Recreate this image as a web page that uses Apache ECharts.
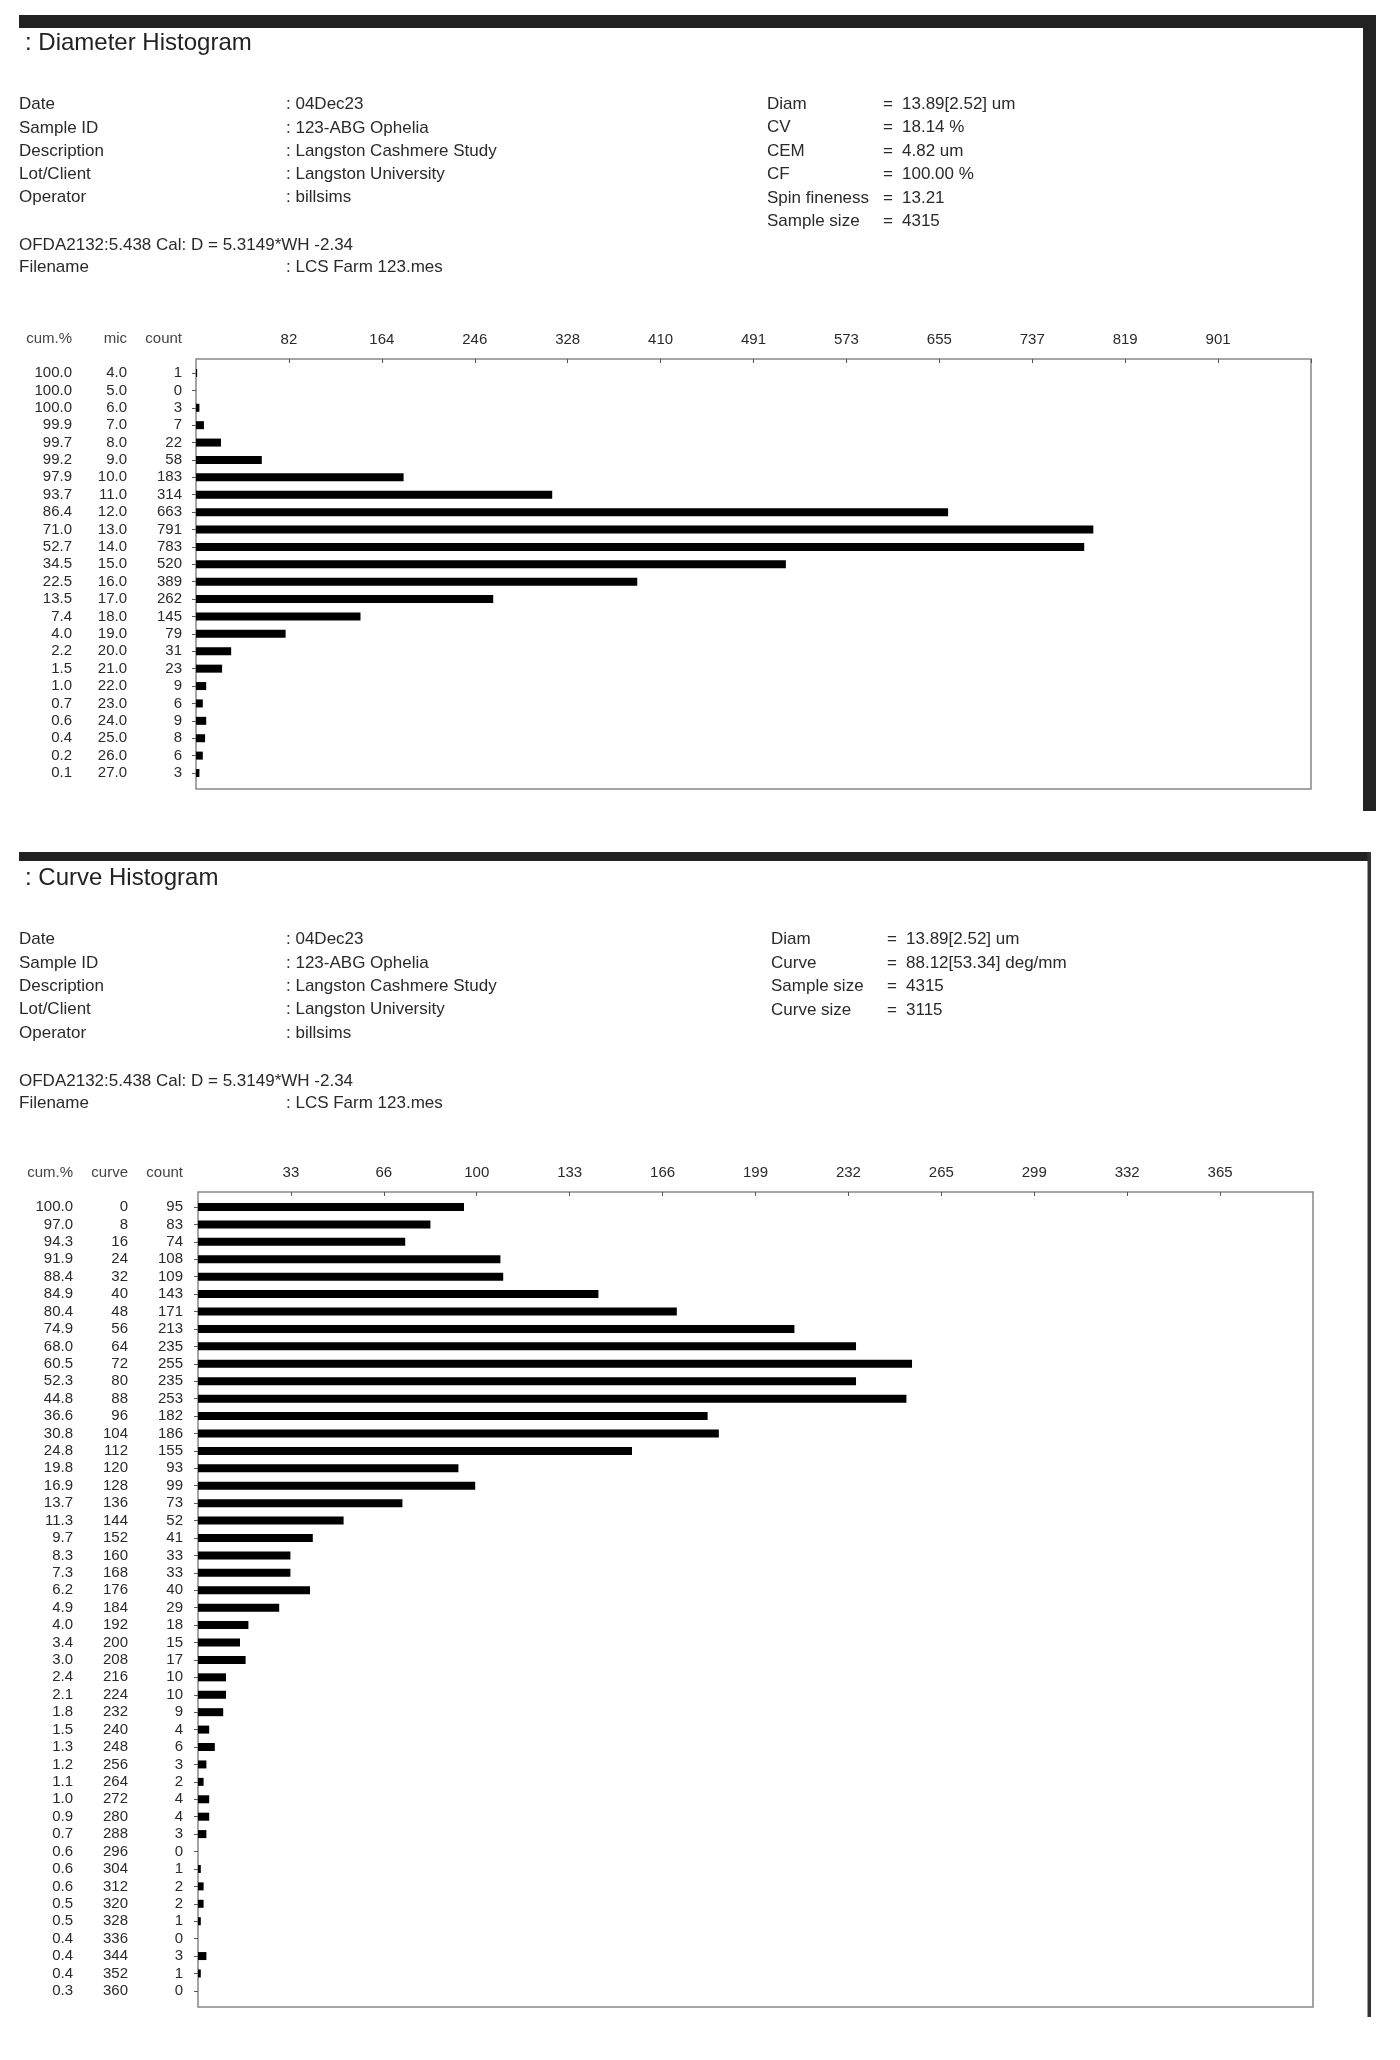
<!DOCTYPE html>
<html>
<head>
<meta charset="utf-8">
<script src="https://cdn.jsdelivr.net/npm/echarts@6/dist/echarts.min.js"></script>
<style>
html,body{margin:0;padding:0;background:#fff;}
#c{width:1400px;height:2060px;}
</style>
</head>
<body>
<div id="c"></div>
<script>
// ---------- Diameter histogram data ----------
const diamMic = [4,5,6,7,8,9,10,11,12,13,14,15,16,17,18,19,20,21,22,23,24,25,26,27];
const diamCum = [100.0,100.0,100.0,99.9,99.7,99.2,97.9,93.7,86.4,71.0,52.7,34.5,22.5,13.5,7.4,4.0,2.2,1.5,1.0,0.7,0.6,0.4,0.2,0.1];
const diamCount = [1,0,3,7,22,58,183,314,663,791,783,520,389,262,145,79,31,23,9,6,9,8,6,3];
const diamAxisMax = 982.9;   // 12 tick intervals -> 82,164,...,901

// ---------- Curve histogram data ----------
const curveVal = [0,8,16,24,32,40,48,56,64,72,80,88,96,104,112,120,128,136,144,152,160,168,176,184,192,200,208,216,224,232,240,248,256,264,272,280,288,296,304,312,320,328,336,344,352,360];
const curveCum = [100.0,97.0,94.3,91.9,88.4,84.9,80.4,74.9,68.0,60.5,52.3,44.8,36.6,30.8,24.8,19.8,16.9,13.7,11.3,9.7,8.3,7.3,6.2,4.9,4.0,3.4,3.0,2.4,2.1,1.8,1.5,1.3,1.2,1.1,1.0,0.9,0.7,0.6,0.6,0.6,0.5,0.5,0.4,0.4,0.4,0.3];
const curveCount = [95,83,74,108,109,143,171,213,235,255,235,253,182,186,155,93,99,73,52,41,33,33,40,29,18,15,17,10,10,9,4,6,3,2,4,4,3,0,1,2,2,1,0,3,1,0];
const curveAxisMax = 398.2;  // 12 tick intervals -> 33,66,...,365

// ---------- Info text ----------
const infoLabels = ['Date','Sample ID','Description','Lot/Client','Operator'];
const infoValues = [': 04Dec23',': 123-ABG Ophelia',': Langston Cashmere Study',': Langston University',': billsims'];
const calLine = 'OFDA2132:5.438 Cal: D = 5.3149*WH -2.34';
const fileLabel = 'Filename';
const fileValue = ': LCS Farm 123.mes';
const diamStatNames = ['Diam','CV','CEM','CF','Spin fineness','Sample size'];
const diamStatValues = ['13.89[2.52] um','18.14 %','4.82 um','100.00 %','13.21','4315'];
const curveStatNames = ['Diam','Curve','Sample size','Curve size'];
const curveStatValues = ['13.89[2.52] um','88.12[53.34] deg/mm','4315','3115'];

const FONT = '"Liberation Sans", Arial, Helvetica, sans-serif';
const TXT = '#2a2a2a';

const chart = echarts.init(document.getElementById('c'), null, {renderer: 'canvas'});

function txt(x, y, s, size, align, color) {
  return {type: 'text', x: x, y: y, silent: true,
    style: {text: s, font: size + 'px ' + FONT, fill: color || TXT, align: align || 'left', verticalAlign: 'middle'}};
}

function infoBlock(dy, title, statNames, statValues, sx, ex, vx) {
  const g = [];
  g.push(txt(25, 43 + dy, title, 24, 'left', '#222'));
  const rows = [104.3, 128, 150.9, 174.2, 197.8];
  infoLabels.forEach((l, i) => {
    g.push(txt(19, rows[i] + dy, l, 17));
    g.push(txt(286, rows[i] + dy, infoValues[i], 17));
  });
  g.push(txt(19, 245.7 + dy, calLine, 17));
  g.push(txt(19, 267.7 + dy, fileLabel, 17));
  g.push(txt(286, 267.7 + dy, fileValue, 17));
  statNames.forEach((n, i) => {
    const y = 104.3 + i * 23.45 + dy;
    g.push(txt(sx, y, n, 17));
    g.push(txt(ex, y, '=', 17));
    g.push(txt(vx, y, statValues[i], 17));
  });
  return g;
}

const graphics = [].concat(
  // frames
  [
    {type: 'rect', silent: true, shape: {x: 19, y: 15, width: 1357, height: 13}, style: {fill: '#222'}},
    {type: 'rect', silent: true, shape: {x: 1363, y: 15, width: 13, height: 796}, style: {fill: '#222'}},
    {type: 'rect', silent: true, shape: {x: 19, y: 852, width: 1352, height: 9}, style: {fill: '#222'}},
    {type: 'rect', silent: true, shape: {x: 1367.5, y: 852, width: 3.5, height: 1165}, style: {fill: '#333'}}
  ],
  infoBlock(0, ': Diameter Histogram', diamStatNames, diamStatValues, 767, 883, 902),
  infoBlock(835.3, ': Curve Histogram', curveStatNames, curveStatValues, 771, 887, 906),
  [
    txt(72, 339, 'cum.%', 15, 'right', '#444'),
    txt(127, 339, 'mic', 15, 'right', '#444'),
    txt(182, 339, 'count', 15, 'right', '#444'),
    txt(73, 1173, 'cum.%', 15, 'right', '#444'),
    txt(128, 1173, 'curve', 15, 'right', '#444'),
    txt(183, 1173, 'count', 15, 'right', '#444')
  ]
);

function topAxis(gridIndex, max) {
  return {
    type: 'value', gridIndex: gridIndex, position: 'top', min: 0, max: max, interval: max / 12,
    axisLine: {show: false, onZero: false},
    axisTick: {show: true, inside: true, length: 4, lineStyle: {color: '#555', width: 1}},
    splitLine: {show: false},
    axisLabel: {show: true, margin: 12, fontSize: 15, color: TXT, fontFamily: FONT,
      showMinLabel: false, showMaxLabel: false,
      formatter: v => (v <= 0.001 || v >= max - 0.001) ? '' : String(Math.round(v))}
  };
}
function hiddenX(gridIndex, max) {
  return {type: 'value', gridIndex: gridIndex, min: 0, max: max, show: false};
}
function catAxis(gridIndex, n, labels, offset, withTicks, margin) {
  return {
    type: 'category', gridIndex: gridIndex, inverse: true, position: 'left', offset: offset,
    data: labels.map((_, i) => String(i)),
    boundaryGap: true,
    axisLine: {show: false, onZero: false},
    axisTick: {show: withTicks, alignWithLabel: true, interval: 0, length: 4, lineStyle: {color: '#555', width: 1}},
    splitLine: {show: false},
    axisLabel: {show: true, interval: 0, margin: margin, fontSize: 15, color: TXT, fontFamily: FONT,
      align: 'right', formatter: (v, i) => labels[i]}
  };
}

const option = {
  animation: false,
  backgroundColor: '#fff',
  graphic: graphics,
  grid: [
    {left: 196, top: 359, width: 1115, height: 430, show: true, borderColor: '#888', borderWidth: 1.5, backgroundColor: 'transparent'},
    {left: 196, top: 364.3, width: 1115, height: 417.4},
    {left: 198, top: 1192, width: 1115, height: 815, show: true, borderColor: '#888', borderWidth: 1.5, backgroundColor: 'transparent'},
    {left: 198, top: 1198.3, width: 1115, height: 801.3}
  ],
  xAxis: [
    topAxis(0, diamAxisMax),
    hiddenX(1, diamAxisMax),
    topAxis(2, curveAxisMax),
    hiddenX(3, curveAxisMax)
  ],
  yAxis: [
    {type: 'value', gridIndex: 0, show: false},
    catAxis(1, diamCount.length, diamCount.map(String), 0, true, 14),
    catAxis(1, diamCount.length, diamMic.map(v => v.toFixed(1)), 55, false, 14),
    catAxis(1, diamCount.length, diamCum.map(v => v.toFixed(1)), 110, false, 14),
    {type: 'value', gridIndex: 2, show: false},
    catAxis(3, curveCount.length, curveCount.map(String), 0, true, 15),
    catAxis(3, curveCount.length, curveVal.map(String), 55, false, 15),
    catAxis(3, curveCount.length, curveCum.map(v => v.toFixed(1)), 110, false, 15)
  ],
  series: [
    {type: 'bar', xAxisIndex: 1, yAxisIndex: 1, data: diamCount, barWidth: 8, itemStyle: {color: '#000'}, silent: true},
    {type: 'bar', xAxisIndex: 3, yAxisIndex: 5, data: curveCount, barWidth: 8, itemStyle: {color: '#000'}, silent: true}
  ]
};
chart.setOption(option);
</script>
</body>
</html>
